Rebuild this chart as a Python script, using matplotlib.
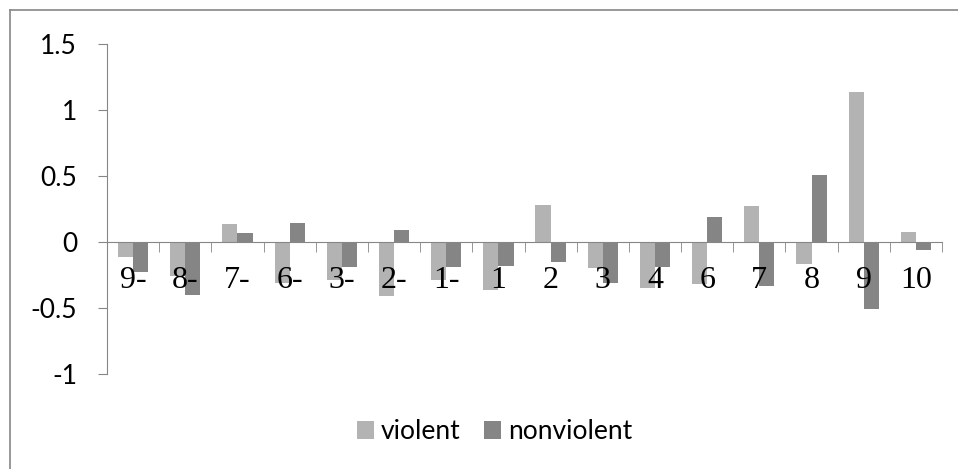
import numpy as np
import matplotlib
matplotlib.use("Agg")
import matplotlib.pyplot as plt
from matplotlib.lines import Line2D

categories = ["9-", "8-", "7-", "6-", "3-", "2-", "1-", "1", "2", "3", "4", "6", "7", "8", "9", "10"]
violent = [-0.11, -0.26, 0.135, -0.31, -0.29, -0.41, -0.29, -0.36, 0.28, -0.20, -0.35, -0.32, 0.27, -0.17, 1.14, 0.078]
nonviolent = [-0.23, -0.40, 0.068, 0.146, -0.19, 0.088, -0.19, -0.18, -0.15, -0.31, -0.19, 0.19, -0.33, 0.51, -0.505, -0.06]
y_ticks = [-1, -0.5, 0, 0.5, 1, 1.5]

light = "#b3b3b3"
dark = "#858585"
axis_grey = "#868686"

fig = plt.figure(figsize=(9.58, 4.69), dpi=100)
ax = fig.add_axes([107 / 958, 95 / 469, 835 / 958, 330 / 469])

x = np.arange(len(categories))
w = 0.29
ax.bar(x - w / 2, violent, w, color=light, label="violent", zorder=1)
ax.bar(x + w / 2, nonviolent, w, color=dark, label="nonviolent", zorder=1)

ax.set_xlim(-0.5, len(categories) - 0.5)
ax.set_ylim(-1, 1.5)

for s in ["top", "right"]:
    ax.spines[s].set_visible(False)
ax.spines["left"].set_color(axis_grey)
ax.spines["bottom"].set_color(axis_grey)
ax.spines["bottom"].set_position(("data", 0))

ax.set_yticks(y_ticks)
ax.set_yticklabels(["-1", "-0.5", "0", "0.5", "1", "1.5"])
ax.tick_params(axis="y", direction="out", length=6.5, color=axis_grey, pad=15,
               labelsize=19)
for t in ax.get_yticklabels():
    t.set_fontfamily(["Lato", "DejaVu Sans"])

ax.set_xticks(x)
ax.set_xticklabels(categories, fontfamily=["Liberation Serif"], fontsize=23)
ax.set_xticks(np.arange(len(categories) + 1) - 0.5, minor=True)
ax.tick_params(axis="x", which="major", length=0, pad=17)
ax.tick_params(axis="x", which="minor", direction="out", length=7, color=axis_grey)

# outer chart frame (clipped at right and bottom in the original)
fig.add_artist(Line2D([10 / 958, 10 / 958], [0, 1 - 10 / 469], color=axis_grey, lw=1.2))
fig.add_artist(Line2D([10 / 958, 1], [1 - 10 / 469, 1 - 10 / 469], color=axis_grey, lw=1.2))

fig.legend(loc="center", bbox_to_anchor=(0.516, 0.08), ncol=2, frameon=False,
           prop={"family": ["Lato", "DejaVu Sans"], "size": 19},
           handlelength=0.65, handleheight=0.65, handletextpad=0.25, columnspacing=0.9)

fig.savefig("out.png", dpi=100)
